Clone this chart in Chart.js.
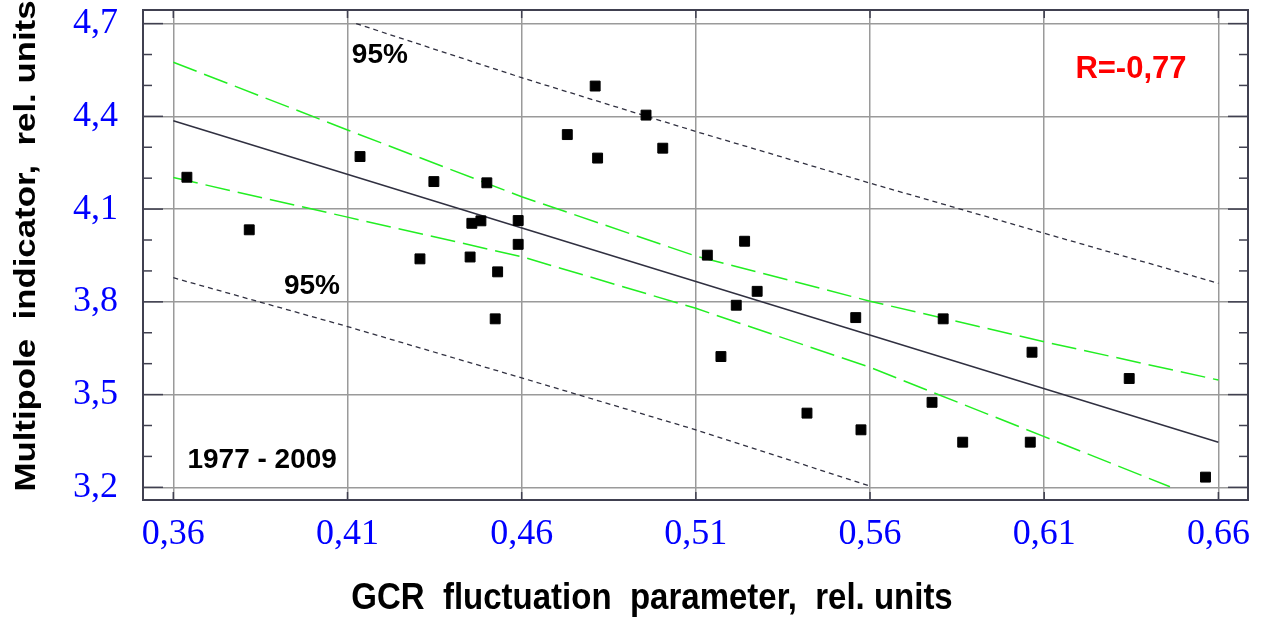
<!DOCTYPE html>
<html>
<head>
<meta charset="utf-8">
<script src="https://cdn.jsdelivr.net/npm/chart.js@4"></script>
<style>
  body { margin: 0; background: #fff; }
</style>
</head>
<body>
<canvas id="chart" width="1264" height="621"></canvas>
<script>
// observed points, 1977 - 2009
const gcrParam = [0.3639, 0.3818, 0.4136, 0.4308, 0.4348, 0.4452, 0.4457, 0.4483, 0.4500, 0.4524, 0.4531,
                  0.4590, 0.4590, 0.4731, 0.4811, 0.4818, 0.4957, 0.5005, 0.5133, 0.5172, 0.5216, 0.5240,
                  0.5276, 0.5419, 0.5559, 0.5574, 0.5778, 0.5810, 0.5866, 0.6060, 0.6065, 0.6344, 0.6563]
const multipole = [4.203, 4.033, 4.270, 3.939, 4.189, 3.945, 4.054, 4.062, 4.185, 3.745, 3.897,
                   4.063, 3.986, 4.341, 4.498, 4.265, 4.404, 4.297, 3.951, 3.623, 3.789, 3.996,
                   3.834, 3.440, 3.749, 3.386, 3.475, 3.745, 3.346, 3.346, 3.637, 3.552, 3.233]

// regression line
const fitX = [0.36, 0.66]
const fitY = [4.386, 3.346]

// 95% confidence band (green)
const confUpperX = [0.36, 0.41, 0.46, 0.51, 0.56, 0.61, 0.66]
const confUpperY = [4.575, 4.356, 4.140, 3.948, 3.802, 3.671, 3.547]
const confLowerX = [0.36, 0.41, 0.46, 0.51, 0.56, 0.61, 0.6461]
const confLowerY = [4.202, 4.074, 3.946, 3.779, 3.588, 3.364, 3.202]

// 95% prediction band (black dotted)
const predUpperX = [0.4125, 0.46, 0.51, 0.56, 0.61, 0.66]
const predUpperY = [4.700, 4.525, 4.351, 4.184, 4.022, 3.860]
const predLowerX = [0.36, 0.41, 0.46, 0.51, 0.56]
const predLowerY = [3.878, 3.720, 3.554, 3.386, 3.204]

// axes
const xTicks = [0.36, 0.41, 0.46, 0.51, 0.56, 0.61, 0.66]
const yTicks = [3.2, 3.5, 3.8, 4.1, 4.4, 4.7]
const yMinorTicks = [3.3, 3.4, 3.6, 3.7, 3.9, 4.0, 4.2, 4.3, 4.5, 4.6]

const toPts = (xs, ys) => xs.map((v, i) => ({x: v, y: ys[i]}))

// text notes, placed in data units
const notes = [
    {text: '95%', x: 0.4193, y: 4.599, color: '#000', size: 28},
    {text: '95%', x: 0.3998, y: 3.851, color: '#000', size: 28},
    {text: '1977 - 2009', x: 0.3855, y: 3.288, color: '#000', size: 28},
    {text: 'R=-0,77', x: 0.6349, y: 4.553, color: '#ff0000', size: 31}
]

const frameColor = '#404050'

const framePlugin = {
    id: 'frame',
    afterDraw(chart) {
        const ctx = chart.ctx
        const a = chart.chartArea
        const x = chart.scales.x
        const y = chart.scales.y
        ctx.save()

        ctx.strokeStyle = frameColor
        ctx.lineWidth = 2
        ctx.strokeRect(a.left, a.top, a.right - a.left, a.bottom - a.top)

        // inner ticks
        ctx.lineWidth = 1.5
        const seg = (x1, y1, x2, y2) => { ctx.beginPath(); ctx.moveTo(x1, y1); ctx.lineTo(x2, y2); ctx.stroke() }
        yTicks.forEach(v => {
            const py = y.getPixelForValue(v)
            seg(a.left, py, a.left + 20, py)
            seg(a.right - 20, py, a.right, py)
        })
        yMinorTicks.forEach(v => {
            const py = y.getPixelForValue(v)
            seg(a.left, py, a.left + 9, py)
            seg(a.right - 9, py, a.right, py)
        })
        xTicks.forEach(v => {
            const px = x.getPixelForValue(v)
            seg(px, a.top, px, a.top + 8)
            seg(px, a.bottom - 8, px, a.bottom)
        })

        // notes
        ctx.textAlign = 'center'
        ctx.textBaseline = 'middle'
        notes.forEach(n => {
            ctx.font = 'bold ' + n.size + 'px "Liberation Sans", Arial, sans-serif'
            ctx.fillStyle = n.color
            ctx.fillText(n.text, x.getPixelForValue(n.x), y.getPixelForValue(n.y))
        })

        // axis titles (slightly stretched like the original)
        ctx.fillStyle = '#000'
        ctx.font = 'bold 33px "Liberation Sans", Arial, sans-serif'
        ctx.save()
        ctx.translate(652, 599)
        ctx.scale(1, 1.12)
        ctx.fillText('GCR  fluctuation  parameter,  rel. units', 0, 0)
        ctx.restore()

        ctx.font = 'bold 30px "Liberation Sans", Arial, sans-serif'
        ctx.save()
        ctx.translate(27, 246)
        ctx.rotate(-Math.PI / 2)
        ctx.scale(1.16, 1)
        ctx.fillText('Multipole  indicator,  rel. units', 0, 0)
        ctx.restore()

        ctx.restore()
    }
}

// keep the plot box fixed, labels may spill over the edges
const noPad = s => {
    s.paddingTop = 0
    s.paddingBottom = 0
    s.paddingLeft = 0
    s.paddingRight = 0
}

const tickFont = {family: '"Liberation Serif", "Times New Roman", serif', size: 36}

new Chart(document.getElementById('chart'), {
    type: 'scatter',
    data: {
        datasets: [
            {
                label: 'data',
                data: toPts(gcrParam, multipole),
                pointStyle: 'rect',
                pointRadius: 7,
                backgroundColor: '#000',
                borderColor: '#000',
                borderWidth: 1
            },
            {
                label: 'fit',
                data: toPts(fitX, fitY),
                showLine: true,
                pointRadius: 0,
                borderColor: '#303040',
                borderWidth: 1.5
            },
            {
                label: 'conf upper',
                data: toPts(confUpperX, confUpperY),
                showLine: true,
                pointRadius: 0,
                borderColor: '#22ee22',
                borderWidth: 1.5,
                borderDash: [25, 8]
            },
            {
                label: 'conf lower',
                data: toPts(confLowerX, confLowerY),
                showLine: true,
                pointRadius: 0,
                borderColor: '#22ee22',
                borderWidth: 1.5,
                borderDash: [25, 8]
            },
            {
                label: 'pred upper',
                data: toPts(predUpperX, predUpperY),
                showLine: true,
                pointRadius: 0,
                borderColor: '#303040',
                borderWidth: 1.3,
                borderDash: [5, 4]
            },
            {
                label: 'pred lower',
                data: toPts(predLowerX, predLowerY),
                showLine: true,
                pointRadius: 0,
                borderColor: '#303040',
                borderWidth: 1.3,
                borderDash: [5, 4]
            }
        ]
    },
    options: {
        responsive: false,
        animation: false,
        devicePixelRatio: 1,
        layout: { padding: { left: 0, right: 16, top: 10, bottom: 0 } },
        plugins: {
            legend: { display: false },
            tooltip: { enabled: false }
        },
        scales: {
            x: {
                type: 'linear',
                min: 0.3513,
                max: 0.6685,
                afterBuildTicks: s => { s.ticks = xTicks.map(v => ({value: v})) },
                afterFit: s => { s.height = 121; noPad(s) },
                ticks: {
                    color: '#0000ff',
                    font: tickFont,
                    padding: 13,
                    maxRotation: 0,
                    callback: v => v.toFixed(2).replace('.', ',')
                },
                grid: { color: '#9a9a9a', lineWidth: 1.5, drawTicks: false },
                border: { display: false }
            },
            y: {
                type: 'linear',
                min: 3.159,
                max: 4.744,
                afterBuildTicks: s => { s.ticks = yTicks.map(v => ({value: v})) },
                afterFit: s => { s.width = 143; noPad(s) },
                ticks: {
                    color: '#0000ff',
                    font: tickFont,
                    padding: 25,
                    callback: v => v.toFixed(1).replace('.', ',')
                },
                grid: { color: '#9a9a9a', lineWidth: 1.5, drawTicks: false },
                border: { display: false }
            }
        }
    },
    plugins: [framePlugin]
})
</script>
</body>
</html>
